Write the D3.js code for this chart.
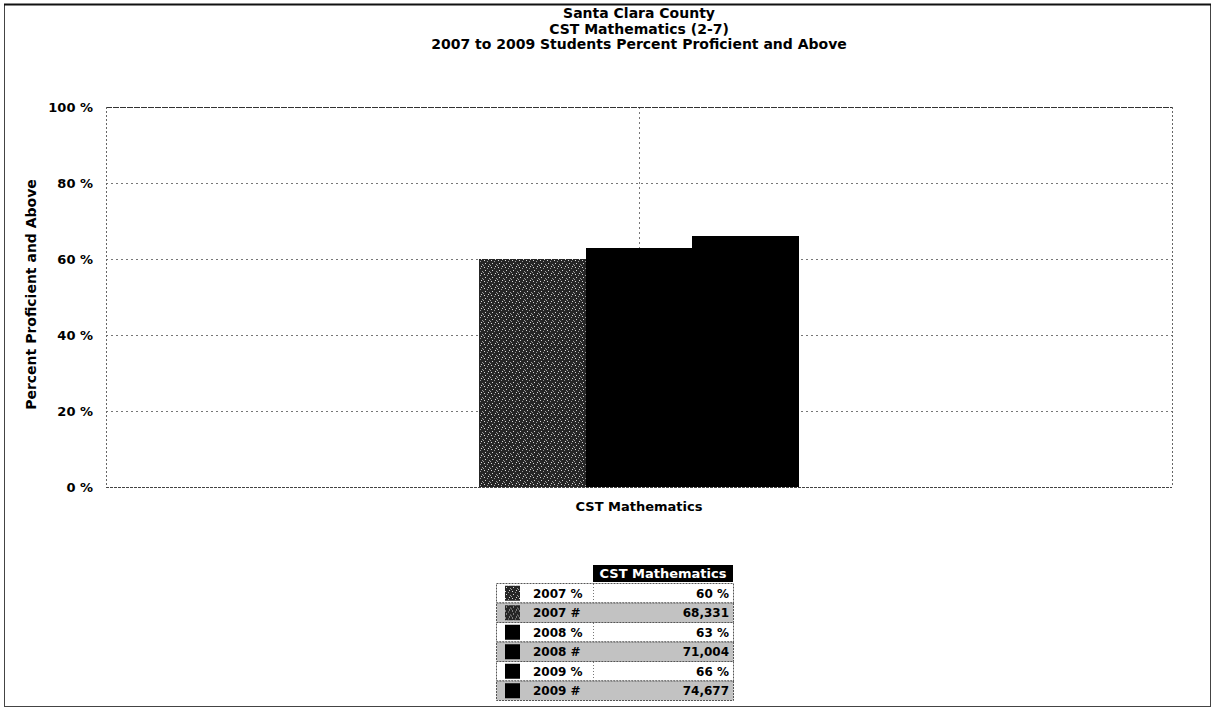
<!DOCTYPE html>
<html>
<head>
<meta charset="utf-8">
<script src="https://cdn.jsdelivr.net/npm/d3@7"></script>
<style>
  html, body { margin: 0; padding: 0; background: #fff; }
  svg { display: block; }
  text { font-family: "DejaVu Sans", Verdana, sans-serif; font-weight: bold; fill: #000; }
</style>
</head>
<body>
<svg id="chart" width="1215" height="711"></svg>
<script>
// ---- data ----
const titleLines = ["Santa Clara County", "CST Mathematics (2-7)", "2007 to 2009 Students Percent Proficient and Above"];
const categories = ["CST Mathematics"];
const years = ["2007", "2008", "2009"];
const percentValues = [60, 63, 66];
const countValues = [68331, 71004, 74677];
const yTicks = [0, 20, 40, 60, 80, 100];
const yAxisTitle = "Percent Proficient and Above";
const tableHeader = "CST Mathematics";
const barColors = ["url(#stipple)", "#000000", "#000000"];

// ---- layout ----
const W = 1215, H = 711;
const plot = { left: 106, right: 1172, top: 107, bottom: 487 };

const svg = d3.select("#chart");

// stipple pattern for the 2007 series (dark grey speckled)
const defs = svg.append("defs");
const pat = defs.append("pattern").attr("id", "stipple").attr("patternUnits", "userSpaceOnUse")
  .attr("width", 7).attr("height", 7);
pat.append("rect").attr("width", 7).attr("height", 7).attr("fill", "#262626");
[[1, 1], [4, 2], [2, 4], [6, 5], [5, 0], [0, 6]].forEach(([px, py], i) => {
  pat.append("rect").attr("x", px).attr("y", py).attr("width", 1).attr("height", 1)
    .attr("fill", i % 2 ? "#9a9a9a" : "#d8d8d8");
});

// outer frame
svg.append("rect").attr("x", 4.5).attr("y", 4.5).attr("width", W - 9).attr("height", H - 9)
  .attr("fill", "none").attr("stroke", "#444").attr("stroke-width", 1);
svg.append("line").attr("x1", 4).attr("x2", W - 4).attr("y1", 4.5).attr("y2", 4.5)
  .attr("stroke", "#111").attr("stroke-width", 2);

// scales
const y = d3.scaleLinear().domain([0, 100]).range([plot.bottom, plot.top]);
const x0 = d3.scaleBand().domain(categories).range([plot.left, plot.right])
  .paddingInner(0).paddingOuter(1.165);
const x1 = d3.scaleBand().domain(years).range([0, x0.bandwidth()]).padding(0);

// title
svg.append("g").selectAll("text").data(titleLines).join("text")
  .attr("x", (plot.left + plot.right) / 2)
  .attr("y", (d, i) => 18 + i * 15.5)
  .attr("text-anchor", "middle")
  .attr("font-size", 14)
  .text(d => d);

// horizontal gridlines
svg.append("g").selectAll("line").data(yTicks.filter(t => t > 0 && t < 100)).join("line")
  .attr("x1", plot.left).attr("x2", plot.right)
  .attr("y1", d => Math.round(y(d)) + 0.5).attr("y2", d => Math.round(y(d)) + 0.5)
  .attr("stroke", "#777").attr("stroke-width", 1).attr("stroke-dasharray", "2,3");

// vertical category gridline
svg.append("g").selectAll("line").data(categories).join("line")
  .attr("x1", d => Math.round(x0(d) + x0.bandwidth() / 2) + 0.5)
  .attr("x2", d => Math.round(x0(d) + x0.bandwidth() / 2) + 0.5)
  .attr("y1", plot.top).attr("y2", plot.bottom)
  .attr("stroke", "#777").attr("stroke-width", 1).attr("stroke-dasharray", "2,3");

// plot border
svg.append("line").attr("x1", plot.left).attr("x2", plot.right)
  .attr("y1", plot.top + 0.5).attr("y2", plot.top + 0.5)
  .attr("stroke", "#333").attr("stroke-width", 1).attr("stroke-dasharray", "6,1");
svg.append("line").attr("x1", plot.left).attr("x2", plot.right)
  .attr("y1", plot.bottom + 0.5).attr("y2", plot.bottom + 0.5)
  .attr("stroke", "#444").attr("stroke-width", 1).attr("stroke-dasharray", "3,1");
[plot.left, plot.right].forEach(xx => {
  svg.append("line").attr("x1", xx + 0.5).attr("x2", xx + 0.5)
    .attr("y1", plot.top).attr("y2", plot.bottom)
    .attr("stroke", "#666").attr("stroke-width", 1).attr("stroke-dasharray", "2,2");
});

// bars
const barRows = years.map((yr, i) => ({ cat: categories[0], year: yr, value: percentValues[i], color: barColors[i] }));
svg.append("g").attr("shape-rendering", "crispEdges").selectAll("rect").data(barRows).join("rect")
  .attr("x", d => Math.round(x0(d.cat) + x1(d.year)))
  .attr("y", d => Math.round(y(d.value)))
  .attr("width", d => Math.round(x0(d.cat) + x1(d.year) + x1.bandwidth()) - Math.round(x0(d.cat) + x1(d.year)))
  .attr("height", d => Math.round(y(0)) - Math.round(y(d.value)))
  .attr("fill", d => d.color);

// y axis tick labels
const yAxis = d3.axisLeft(y).tickValues(yTicks).tickSize(0).tickPadding(13)
  .tickFormat(d => d + " %");
const gy = svg.append("g").attr("transform", `translate(${plot.left},0)`).call(yAxis);
gy.select(".domain").remove();
gy.selectAll("text").attr("font-size", 13).attr("font-family", "DejaVu Sans").attr("font-weight", "bold").attr("fill", "#000");

// y axis title
svg.append("text")
  .attr("transform", `translate(36,${(178 + 411) / 2}) rotate(-90)`)
  .attr("text-anchor", "middle")
  .attr("font-size", 14)
  .text(yAxisTitle);

// x axis label
const xAxis = d3.axisBottom(x0).tickSize(0).tickPadding(15);
const gx = svg.append("g").attr("transform", `translate(0,${plot.bottom})`).call(xAxis);
gx.select(".domain").remove();
gx.selectAll("text").attr("font-size", 13).attr("font-family", "DejaVu Sans").attr("font-weight", "bold").attr("fill", "#000");

// ---- data table legend ----
const tbl = { left: 496, divider: 593, right: 733, headerTop: 565, top: 583, bottom: 700 };
const rows = [];
years.forEach((yr, i) => {
  rows.push({ label: yr + " %", value: percentValues[i] + " %", color: barColors[i], shaded: false });
  rows.push({ label: yr + " #", value: d3.format(",")(countValues[i]), color: barColors[i], shaded: true });
});
const ry = d3.scaleBand().domain(rows.map(r => r.label)).range([tbl.top, tbl.bottom]);

// header
svg.append("rect").attr("x", tbl.divider).attr("y", tbl.headerTop)
  .attr("width", tbl.right - tbl.divider).attr("height", tbl.top - tbl.headerTop - 1)
  .attr("fill", "#000");
svg.append("text").attr("x", (tbl.divider + tbl.right) / 2).attr("y", (tbl.headerTop + tbl.top) / 2 + 4)
  .attr("text-anchor", "middle").attr("font-size", 13).style("fill", "#fff").text(tableHeader);

const rg = svg.append("g").selectAll("g").data(rows).join("g")
  .attr("transform", d => `translate(0,${ry(d.label)})`);
rg.append("rect").attr("x", tbl.left + 0.5).attr("y", 0.5)
  .attr("width", tbl.right - tbl.left).attr("height", ry.bandwidth())
  .attr("fill", d => d.shaded ? "#c2c2c2" : "#fff")
  .attr("stroke", "#555").attr("stroke-width", 1).attr("stroke-dasharray", "2,1");
rg.filter(d => !d.shaded).append("line")
  .attr("x1", tbl.divider + 0.5).attr("x2", tbl.divider + 0.5)
  .attr("y1", 1).attr("y2", ry.bandwidth())
  .attr("stroke", "#777").attr("stroke-dasharray", "1,2");
rg.append("rect").attr("x", tbl.left + 9).attr("y", (ry.bandwidth() - 15) / 2 + 0.5)
  .attr("width", 15).attr("height", 15).attr("fill", d => d.color);
rg.append("text").attr("x", tbl.left + 37).attr("y", ry.bandwidth() / 2 + 5)
  .attr("font-size", 12).text(d => d.label);
rg.append("text").attr("x", tbl.right - 4).attr("y", ry.bandwidth() / 2 + 5)
  .attr("text-anchor", "end").attr("font-size", 12).text(d => d.value);
</script>
</body>
</html>
